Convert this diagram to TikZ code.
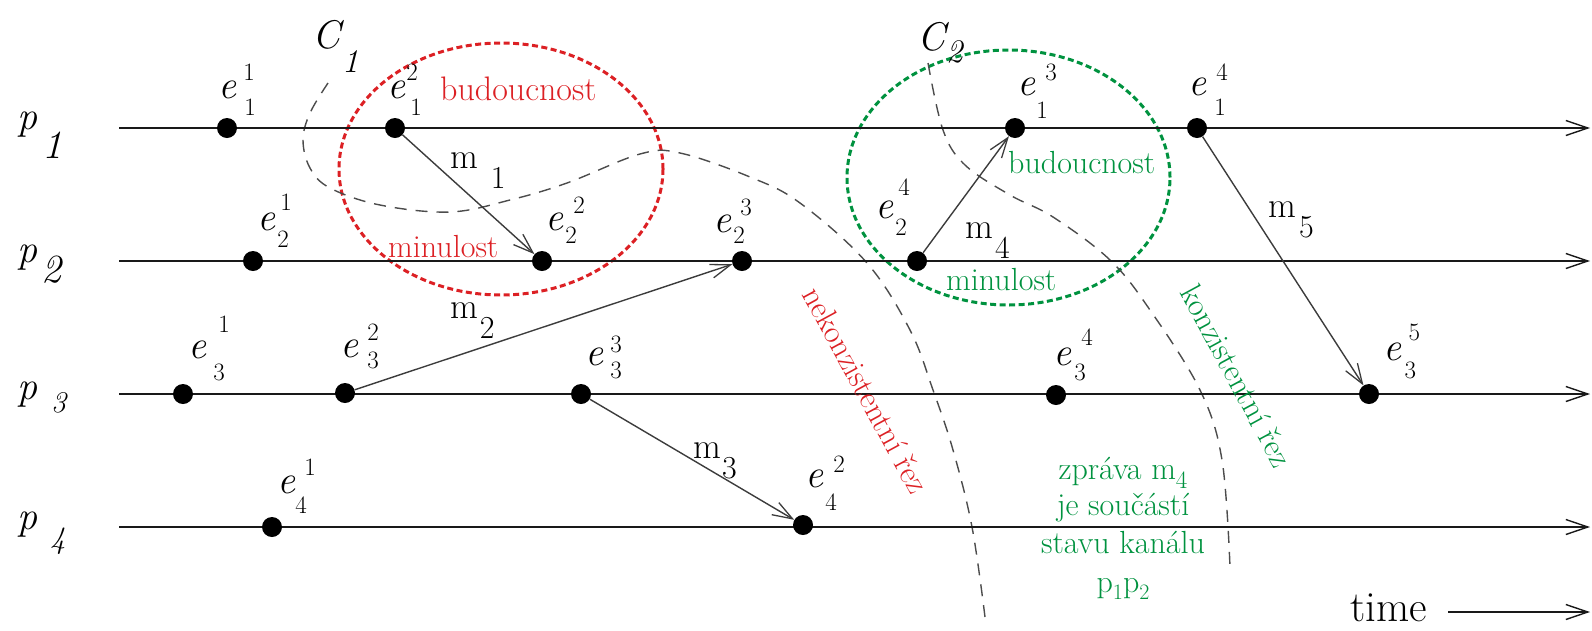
\documentclass[tikz,border=0pt]{standalone}
\usepackage{fontspec}
\usetikzlibrary{arrows.meta}
\definecolor{cred}{RGB}{220,32,36}
\definecolor{cgreen}{RGB}{0,146,63}
\definecolor{ink}{RGB}{25,25,25}
\newcommand\fs[1]{\fontsize{#1}{#1}\selectfont}
% e label: #1 sub, #2 sup, #3 sub gap, #4 sub drop, #5 sup gap, #6 sup rise
\newcommand\ev[6]{\fs{40}\textit{e}\rlap{\kern#5pt\raisebox{#6pt}{\fs{25}#2}}\kern#3pt\raisebox{-#4pt}{\fs{25}#1}}
% process label: #1 index, #2 kern, #3 drop, #4 size
\newcommand\plab[4]{\fs{40}\textit{p}\kern#2pt\raisebox{-#3pt}{\fs{#4}\textit{#1}}}
% cut label
\newcommand\clab[3]{\fs{40}\textit{C}\kern#2pt\raisebox{-#3pt}{\fs{33}\textit{#1}}}
% message label
\newcommand\mlab[2]{\fs{36}m\kern#2pt\raisebox{-20pt}{\fs{32}#1}}
\begin{document}
\begin{tikzpicture}[x=1pt,y=-1pt,
  proc/.style={line width=2pt, draw=ink, -{Straight Barb[length=22pt,width=15pt,line width=1.4pt]}},
  msg/.style={line width=1.4pt, draw=ink!85, -{Straight Barb[length=20pt,width=14pt,line width=1.3pt]}},
  dot/.style={circle, fill=black, inner sep=0pt, minimum size=20pt},
  cut/.style={dash pattern=on 12pt off 9pt, line width=1.4pt, draw=black!70},
  zone/.style={dash pattern=on 6pt off 3.5pt, line width=3pt},
  lab/.style={inner sep=0pt, anchor=base west},
  txt/.style={inner sep=0pt, anchor=base west, font=\fs{32}}]
\useasboundingbox (0,0) rectangle (1592,630);

% zones
\draw[zone, cred] (501,169) ellipse [x radius=162pt, y radius=126pt];
\draw[zone, cgreen] (1008.5,177.5) ellipse [x radius=161.5pt, y radius=127.5pt];

% cuts
\draw[cut] plot[smooth, tension=0.6] coordinates {(328,83) (310,113) (303,140) (310,168) (330,188) (380,205) (450,212) (510,200) (567,183) (640,154) (680,153) (750,177) (800,203) (867,263) (910,330) (933,390) (953,450) (972,527) (985,617)};
\draw[cut] plot[smooth, tension=0.6] coordinates {(928,63) (943,130) (965,165) (1010,195) (1053,217) (1110,260) (1150,310) (1200,390) (1222,460) (1230,567)};

% process lines
\coordinate (p1s) at (119,128); \coordinate (p1e) at (1590,128);
\coordinate (p2s) at (119,261); \coordinate (p2e) at (1590,261);
\coordinate (p3s) at (119,394); \coordinate (p3e) at (1590,394);
\coordinate (p4s) at (119,527); \coordinate (p4e) at (1590,527);
\draw[proc] (p1s) -- (p1e);
\draw[proc] (p2s) -- (p2e);
\draw[proc] (p3s) -- (p3e);
\draw[proc] (p4s) -- (p4e);
\coordinate (ts) at (1448,612); \coordinate (te) at (1590,612);
\draw[proc] (ts) -- (te);

% events
\node[dot] (e11) at (227,128) {};
\node[dot] (e12) at (395,128) {};
\node[dot] (e13) at (1015,128) {};
\node[dot] (e14) at (1197,128) {};
\node[dot] (e21) at (253,261) {};
\node[dot] (e22) at (542,261) {};
\node[dot] (e23) at (742,261) {};
\node[dot] (e24) at (917,261) {};
\node[dot] (e31) at (183,394) {};
\node[dot] (e32) at (345,393) {};
\node[dot] (e33) at (581,394) {};
\node[dot] (e34) at (1056,395) {};
\node[dot] (e35) at (1369,394) {};
\node[dot] (e41) at (272,527) {};
\node[dot] (e42) at (803,525) {};

% messages
\draw[msg] (e12) -- (e22);
\draw[msg] (e32) -- (e23);
\draw[msg] (e33) -- (e42);
\draw[msg] (e24) -- (e13);
\draw[msg] (e14) -- (e35);

% event labels
\node[lab] (l11) at (218,98) {\ev{1}{1}{8}{17}{7}{18}};
\node[lab] (l12) at (387,98) {\ev{1}{2}{5}{17}{1}{18}};
\node[lab] (l13) at (1017,95) {\ev{1}{3}{1}{23}{10}{15}};
\node[lab] (l14) at (1188,95) {\ev{1}{4}{8}{20}{10}{15}};
\node[lab] (l21) at (257,230) {\ev{2}{1}{2}{17}{5}{20}};
\node[lab] (l22) at (545,230) {\ev{2}{2}{2}{13}{10}{17}};
\node[lab] (l23) at (713,232) {\ev{2}{3}{2}{11}{9}{17}};
\node[lab] (l24) at (875,218) {\ev{2}{4}{2}{17}{5}{23}};
\node[lab] (l31) at (188,358) {\ev{3}{1}{7}{22}{12}{26}};
\node[lab] (l32) at (340,357) {\ev{3}{2}{9}{11}{9}{17}};
\node[lab] (l33) at (585,365) {\ev{3}{3}{7}{13}{7}{13}};
\node[lab] (l34) at (1053,365) {\ev{3}{4}{3}{15}{10}{20}};
\node[lab] (l35) at (1383,360) {\ev{3}{5}{3}{18}{7}{20}};
\node[lab] (l41) at (277,493) {\ev{4}{1}{0}{20}{9}{18}};
\node[lab] (l42) at (805,487) {\ev{4}{2}{2}{23}{10}{15}};

% process labels
\node[lab] (lp1) at (17,129) {\plab{1}{5}{29}{40}};
\node[lab] (lp2) at (17,262) {\plab{2}{4}{20}{40}};
\node[lab] (lp3) at (17,399) {\plab{3}{14}{13}{30}};
\node[lab] (lp4) at (17,529) {\plab{4}{13}{19}{31}};

% cut labels
\node[lab] (lc1) at (312,48) {\clab{1}{-2}{24}};
\node[lab] (lc2) at (917,50) {\clab{2}{-3}{12}};

% message labels
\node[lab] (lm1) at (450,168) {\mlab{1}{13}};
\node[lab] (lm2) at (450,318) {\mlab{2}{2}};
\node[lab] (lm3) at (693,458) {\mlab{3}{1}};
\node[lab] (lm4) at (965,238) {\mlab{4}{2}};
\node[lab] (lm5) at (1268,217) {\mlab{5}{3}};

% zone texts
\node[txt, cred, font=\fs{34}] (rb) at (440,100) {budoucnost};
\node[txt, cred] (rm) at (388,257) {minulost};
\node[txt, cgreen] (gb) at (1008,173) {budoucnost};
\node[txt, cgreen] (gm) at (946,290) {minulost};

% cut texts
\node[inner sep=0pt, cred, font=\fs{32}, rotate=-61.5] (nk) at (866,390) {nekonzistentní řez};
\node[inner sep=0pt, cgreen, font=\fs{32}, rotate=-61.6] (kz) at (1237,376) {konzistentní řez};

% channel state note
\node[inner sep=0pt, anchor=base, cgreen, font=\fs{32}] (z1) at (1123,479) {zpráva m\raisebox{-9pt}{\fs{25}4}};
\node[inner sep=0pt, anchor=base, cgreen, font=\fs{32}] (z2) at (1123,515) {je součástí};
\node[inner sep=0pt, anchor=base, cgreen, font=\fs{32}] (z3) at (1123,553) {stavu kanálu};
\node[inner sep=0pt, anchor=base, cgreen, font=\fs{32}] (z4) at (1123,592) {p\raisebox{-7pt}{\fs{22}1}p\raisebox{-7pt}{\fs{22}2}};

% time
\node[lab, font=\fs{43}] (tm) at (1350,621) {time};
\end{tikzpicture}
\end{document}
